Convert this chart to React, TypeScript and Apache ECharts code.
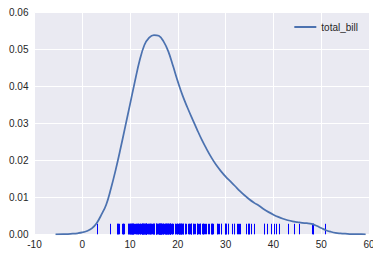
import React, { useEffect, useRef } from "react";
import * as echarts from "echarts";

const kdeX = [-5.6, -4, -3, -2, -1, 0, 1, 2, 3, 4, 5, 6, 7, 8, 9, 10, 11, 12, 13, 14, 15, 16, 17, 18, 19, 20, 21, 22, 23, 24, 25, 26, 27, 28, 29, 30, 31, 32, 33, 34, 35, 36, 37, 38, 39, 40, 41, 42, 43, 44, 45, 46, 47, 48, 49, 50, 51, 52, 53, 54, 55, 56, 57, 58, 59.3];
const kdeY = [0.00001, 0.00003, 0.00007, 0.00015, 0.00028, 0.0005, 0.0009, 0.0016, 0.003, 0.0053, 0.008, 0.0124, 0.0175, 0.0232, 0.0292, 0.0352, 0.0413, 0.047, 0.0512, 0.0532, 0.0539, 0.0537, 0.0522, 0.0495, 0.0455, 0.0413, 0.0375, 0.0343, 0.0313, 0.0284, 0.0256, 0.0231, 0.0208, 0.0188, 0.0171, 0.0156, 0.0143, 0.013, 0.0117, 0.0105, 0.0094, 0.0085, 0.0077, 0.0068, 0.006, 0.0053, 0.0047, 0.0042, 0.0038, 0.0035, 0.0033, 0.0031, 0.003, 0.0028, 0.0023, 0.0017, 0.0011, 0.0007, 0.0004, 0.00025, 0.00015, 0.00008, 0.00004, 0.00002, 0.00001];

const totalBill = [16.99, 10.34, 21.01, 23.68, 24.59, 25.29, 8.77, 26.88, 15.04, 14.78, 10.27, 35.26, 15.42, 18.43, 14.83, 21.58, 10.33, 16.29, 16.97, 20.65, 17.92, 20.29, 15.77, 39.42, 19.82, 17.81, 13.37, 12.69, 21.7, 19.65, 9.55, 18.35, 15.06, 20.69, 17.78, 24.06, 16.31, 16.93, 18.69, 31.27, 16.04, 17.46, 13.94, 9.68, 30.4, 18.29, 22.23, 32.4, 28.55, 18.04, 12.54, 10.29, 34.81, 9.94, 25.56, 19.49, 38.01, 26.41, 11.24, 48.27, 20.29, 13.81, 11.02, 18.29, 17.59, 20.08, 16.45, 3.07, 20.23, 15.01, 12.02, 17.07, 26.86, 25.28, 14.73, 10.51, 17.92, 27.2, 22.76, 17.29, 19.44, 16.66, 10.07, 32.68, 15.98, 34.83, 13.03, 18.28, 24.71, 21.16, 28.97, 22.49, 5.75, 16.32, 22.75, 40.17, 27.28, 12.03, 21.01, 12.46, 11.35, 15.38, 44.3, 22.42, 20.92, 15.36, 20.49, 25.21, 18.24, 14.31, 14.0, 7.25, 38.07, 23.95, 25.71, 17.31, 29.93, 10.65, 12.43, 24.08, 11.69, 13.42, 14.26, 15.95, 12.48, 29.8, 8.52, 14.52, 11.38, 22.82, 19.08, 20.27, 11.17, 12.26, 18.26, 8.51, 10.33, 14.15, 16.0, 13.16, 17.47, 34.3, 41.19, 27.05, 16.43, 8.35, 18.64, 11.87, 9.78, 7.51, 14.07, 13.13, 17.26, 24.55, 19.77, 29.85, 48.17, 25.0, 13.39, 16.49, 21.5, 12.66, 16.21, 13.81, 17.51, 24.52, 20.76, 31.71, 10.59, 10.63, 50.81, 15.81, 7.25, 31.85, 16.82, 32.9, 17.89, 14.48, 9.6, 34.63, 34.65, 23.33, 45.35, 23.17, 40.55, 20.69, 20.9, 30.46, 18.15, 23.1, 15.69, 19.81, 28.44, 15.48, 16.58, 7.56, 10.34, 43.11, 13.0, 13.51, 18.71, 12.74, 13.0, 16.4, 20.53, 16.47, 26.59, 38.73, 24.27, 12.76, 30.06, 25.89, 48.33, 13.27, 28.17, 12.9, 28.15, 11.59, 7.74, 30.14, 12.16, 13.42, 8.58, 15.98, 13.42, 16.27, 10.09, 20.45, 13.28, 22.12, 24.01, 15.69, 11.61, 10.77, 15.53, 10.07, 12.6, 32.83, 35.83, 29.03, 27.18, 22.67, 17.82, 18.78];

const seriesName = "total_bill";

export default function App() {
  const ref = useRef<HTMLDivElement>(null);
  useEffect(() => {
    if (!ref.current) return;
    const chart = echarts.init(ref.current, null, { renderer: "svg" });
    const font = "'Liberation Sans', Arial, sans-serif";
    chart.setOption({
      animation: false,
      backgroundColor: "#ffffff",
      grid: {
        left: 34.5,
        right: 12,
        top: 12.5,
        bottom: 23.7,
        show: true,
        backgroundColor: "#eaeaf2",
        borderWidth: 0,
      },
      legend: {
        show: true,
        right: 18,
        top: 17,
        itemWidth: 22,
        itemHeight: 2,
        itemGap: 6,
        icon: "rect",
        textStyle: { fontFamily: font, fontSize: 10, color: "#262626" },
        data: [{ name: seriesName, icon: "rect" }],
      },
      xAxis: {
        type: "value",
        min: -10,
        max: 60,
        interval: 10,
        axisLine: { show: false },
        axisTick: { show: false },
        splitLine: { show: true, lineStyle: { color: "#ffffff", width: 1 } },
        axisLabel: { fontFamily: font, fontSize: 10, color: "#262626", margin: 5 },
      },
      yAxis: {
        type: "value",
        min: 0,
        max: 0.06,
        interval: 0.01,
        axisLine: { show: false },
        axisTick: { show: false },
        splitLine: { show: true, lineStyle: { color: "#ffffff", width: 1 } },
        axisLabel: {
          fontFamily: font,
          fontSize: 10,
          color: "#262626",
          margin: 6,
          formatter: (v: number) => v.toFixed(2),
        },
      },
      series: [
        {
          name: "rug",
          type: "custom",
          data: totalBill.map((v) => [v, 0]),
          renderItem: (params: any, api: any) => {
            const p = api.coord([api.value(0), 0]);
            const x = Math.round(p[0]) + 0.5;
            return {
              type: "line",
              shape: { x1: x, y1: p[1], x2: x, y2: p[1] - 10.5 },
              style: { stroke: "#0000ff", lineWidth: 1 },
            };
          },
          z: 3,
        },
        {
          name: seriesName,
          type: "line",
          data: kdeX.map((x, i) => [x, kdeY[i]]),
          showSymbol: false,
          smooth: 0.4,
          lineStyle: { color: "#4c72b0", width: 1.75 },
          itemStyle: { color: "#4c72b0" },
          z: 4,
        },
      ],
    });
    return () => chart.dispose();
  }, []);
  return <div ref={ref} style={{ width: 381, height: 258, margin: -8 }} />;
}
